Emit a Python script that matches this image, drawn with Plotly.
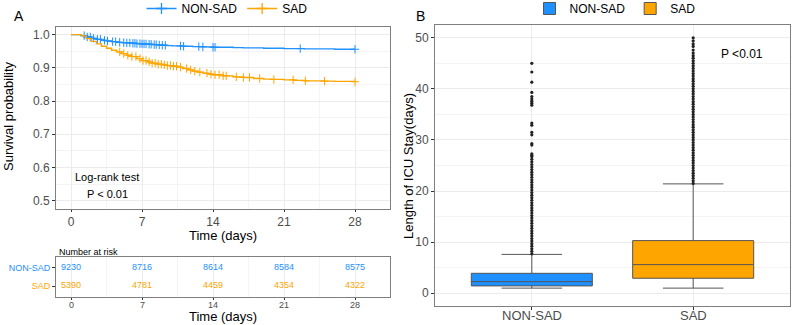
import numpy as np
import plotly.graph_objects as go

# ---------------- data ----------------
km_time = [0, 0.9, 1, 1.5, 2, 2.5, 3, 3.5, 4, 4.5, 5, 5.5, 6, 6.5, 7, 7.5, 8, 8.5, 9, 9.5,
           10, 10.5, 11, 11.5, 12, 12.5, 13, 13.5, 14, 15, 16, 17, 18, 19, 20, 21, 22, 23,
           24, 25, 26, 27, 28]
surv_nonsad = [1.0, 1.0, 0.997, 0.993, 0.989, 0.986, 0.983, 0.981, 0.979, 0.977, 0.976, 0.975,
               0.974, 0.973, 0.972, 0.971, 0.970, 0.969, 0.968, 0.967, 0.966, 0.966, 0.965,
               0.965, 0.964, 0.964, 0.963, 0.963, 0.962, 0.962, 0.961, 0.960, 0.960, 0.959,
               0.959, 0.958, 0.958, 0.957, 0.957, 0.957, 0.956, 0.956, 0.956]
surv_sad = [1.0, 1.0, 0.996, 0.988, 0.980, 0.972, 0.965, 0.959, 0.953, 0.948, 0.943, 0.938,
            0.934, 0.928, 0.922, 0.918, 0.914, 0.911, 0.909, 0.907, 0.905, 0.902, 0.898,
            0.894, 0.890, 0.887, 0.884, 0.881, 0.879, 0.876, 0.873, 0.871, 0.868, 0.866,
            0.865, 0.864, 0.862, 0.861, 0.861, 0.860, 0.859, 0.859, 0.858]
censor_nonsad = [1.3, 1.6, 1.9, 2.2, 2.6, 2.9, 3.3, 3.6, 4.1, 4.4, 4.8, 5.2, 5.5, 5.8, 6.1,
                 6.3, 6.5, 6.8, 7.0, 7.2, 7.4, 7.7, 7.9, 8.2, 8.4, 8.7, 9.0, 9.3, 10.8, 11.1,
                 12.6, 13.0, 14.0, 14.2, 22.6, 28.0]
censor_sad = [4.8, 5.2, 5.6, 6.0, 6.4, 6.8, 7.1, 7.4, 7.7, 8.0, 8.3, 8.6, 8.9, 9.2, 9.5, 9.8,
              10.1, 10.4, 10.8, 11.4, 11.8, 12.2, 12.7, 13.4, 13.8, 14.2, 14.6, 15.0, 15.3,
              16.3, 17.0, 17.6, 18.6, 20.0, 21.9, 23.1, 25.0, 28.0]

risk_times = [0, 7, 14, 21, 28]
risk_nonsad = [9230, 8716, 8614, 8584, 8575]
risk_sad = [5390, 4781, 4459, 4354, 4322]

groups = ["NON-SAD", "SAD"]
los_lower = [1.0, 1.0]
los_q1 = [1.43, 2.93]
los_median = [2.27, 5.6]
los_q3 = [3.9, 10.3]
los_upper = [7.6, 21.4]
outliers_nonsad = [7.7, 8.2, 8.7, 9.2, 9.7, 10.2, 10.7, 11.2, 11.7, 12.2, 12.7, 13.2, 13.7,
                   14.2, 14.7, 15.2, 15.7, 16.2, 16.7, 17.2, 17.7, 18.2, 18.7, 19.2, 19.7,
                   20.2, 20.7, 21.2, 21.7, 22.2, 22.7, 23.2, 23.7, 24.2, 24.7, 25.2, 25.7,
                   26.2, 26.7, 27.0, 27.3, 29.0, 29.3, 31.0, 31.5, 32.9, 33.3, 36.8, 37.2,
                   37.6, 38.0, 38.5, 39.3, 41.3, 43.3, 45.0]
outliers_sad = [21.5, 22.0, 22.5, 23.0, 23.5, 24.0, 24.5, 25.0, 25.5, 26.0, 26.5, 27.0, 27.5,
                28.0, 28.5, 29.0, 29.5, 30.0, 30.5, 31.0, 31.5, 32.0, 32.5, 33.0, 33.5, 34.0,
                34.5, 35.0, 35.5, 36.0, 36.5, 37.0, 37.5, 38.0, 38.5, 39.0, 39.5, 40.0, 40.5,
                41.0, 41.5, 42.0, 42.5, 43.0, 43.5, 44.0, 44.5, 45.0, 45.5, 46.0, 46.5, 47.0,
                47.6, 48.3, 48.8, 49.4, 50.0]

BLUE = "#1E90FF"
ORANGE = "#FFA500"
FONT = "Liberation Sans, Arial, sans-serif"
GRID = "#EBEBEB"
MINOR = "#F4F4F4"
BORDER = "#7F7F7F"
TICKC = "#4D4D4D"


def step_at(times, tgrid, surv):
    tg = np.asarray(tgrid)
    s = np.asarray(surv)
    idx = np.searchsorted(tg, np.asarray(times), side="right") - 1
    return s[idx]


fig = go.Figure()

# ---------------- Panel A: KM curves ----------------
for name, surv, cens, col in [("NON-SAD", surv_nonsad, censor_nonsad, BLUE),
                              ("SAD", surv_sad, censor_sad, ORANGE)]:
    fig.add_trace(go.Scatter(x=km_time, y=surv, mode="lines", line=dict(color=col, width=1.3, shape="hv"),
                             showlegend=False, xaxis="x", yaxis="y"))
    fig.add_trace(go.Scatter(x=cens, y=step_at(cens, km_time, surv), mode="markers",
                             marker=dict(symbol="cross-thin", size=6, line=dict(width=1, color=col), color=col),
                             showlegend=False, xaxis="x", yaxis="y"))
    fig.add_trace(go.Scatter(x=[None], y=[None], mode="lines+markers", name=name,
                             line=dict(color=col, width=1.3),
                             marker=dict(symbol="cross-thin", size=8, line=dict(width=1.3, color=col), color=col),
                             xaxis="x", yaxis="y", legend="legend"))

# ---------------- Risk table ----------------
fig.add_trace(go.Scatter(x=risk_times, y=[2] * len(risk_times), mode="text",
                         text=[str(v) for v in risk_nonsad], textfont=dict(color=BLUE, size=9, family=FONT),
                         showlegend=False, xaxis="x2", yaxis="y2"))
fig.add_trace(go.Scatter(x=risk_times, y=[1] * len(risk_times), mode="text",
                         text=[str(v) for v in risk_sad], textfont=dict(color=ORANGE, size=9, family=FONT),
                         showlegend=False, xaxis="x2", yaxis="y2"))

# ---------------- Panel B: boxplots ----------------
box_cols = [BLUE, ORANGE]
for i, g in enumerate(groups):
    fig.add_trace(go.Box(x=[g], q1=[los_q1[i]], median=[los_median[i]], q3=[los_q3[i]],
                         lowerfence=[los_lower[i]], upperfence=[los_upper[i]],
                         fillcolor=box_cols[i], line=dict(color="#555555", width=1),
                         width=0.75, boxpoints=False, name=g, xaxis="x3", yaxis="y3",
                         legend="legend2"))
for g, outs in [("NON-SAD", outliers_nonsad), ("SAD", outliers_sad)]:
    fig.add_trace(go.Scatter(x=[g] * len(outs), y=outs, mode="markers",
                             marker=dict(color="#222222", size=3.2), showlegend=False,
                             xaxis="x3", yaxis="y3"))

axis_common = dict(showline=True, linecolor=BORDER, linewidth=1, mirror=True, zeroline=False,
                   ticks="outside", tickcolor="#333333", gridcolor=GRID)

fig.update_layout(
    width=792, height=325, margin=dict(l=0, r=0, t=0, b=0, autoexpand=False),
    paper_bgcolor="white", plot_bgcolor="white",
    font=dict(family=FONT, color="black"),
    boxmode="overlay",
    xaxis=dict(domain=[56 / 792, 390 / 792], range=[-1.48, 31.45], tick0=0, dtick=7,
               tickfont=dict(size=12, color=TICKC), ticklen=2,
               minor=dict(dtick=3.5, tick0=0, showgrid=True, gridcolor=MINOR, ticks=""),
               anchor="y", **axis_common),
    yaxis=dict(domain=[1 - 209 / 325, 1 - 27 / 325], range=[0.475, 1.023], tick0=0.5, dtick=0.1,
               tickformat=".1f", tickfont=dict(size=12, color=TICKC), ticklen=3,
               minor=dict(dtick=0.05, tick0=0.5, showgrid=True, gridcolor=MINOR, ticks=""),
               anchor="x", **axis_common),
    xaxis2=dict(domain=[56 / 792, 390 / 792], range=[-1.48, 31.45], tick0=0, dtick=7,
                showticklabels=False, ticklen=2,
                minor=dict(dtick=3.5, tick0=0, showgrid=True, gridcolor=MINOR, ticks=""),
                anchor="y2", **axis_common),
    yaxis2=dict(domain=[1 - 297 / 325, 1 - 257 / 325], range=[0.4, 2.6],
                tickvals=[2, 1], ticklen=3,
                ticktext=['<span style="color:%s">NON-SAD</span>' % BLUE,
                          '<span style="color:%s">SAD</span>' % ORANGE],
                tickfont=dict(size=9), showgrid=False,
                anchor="x2", **axis_common),
    xaxis3=dict(domain=[435 / 792, 790 / 792], type="category", categoryorder="array",
                categoryarray=groups, range=[-0.6, 1.6], showticklabels=False,
                ticklen=3, anchor="y3", **axis_common),
    yaxis3=dict(domain=[1 - 306 / 325, 1 - 25 / 325], range=[-2.5, 52.5], tick0=0, dtick=10,
                tickfont=dict(size=12, color=TICKC), ticklen=3,
                minor=dict(dtick=5, tick0=0, showgrid=True, gridcolor=MINOR, ticks=""),
                anchor="x3", **axis_common),
    legend=dict(orientation="h", x=0.2866, xanchor="center", y=1.0185, yanchor="top",
                font=dict(size=12), bgcolor="rgba(0,0,0,0)", itemwidth=30, tracegroupgap=0),
    legend2=dict(orientation="h", x=615 / 792, xanchor="center", y=1.0185, yanchor="top",
                 font=dict(size=12), bgcolor="rgba(0,0,0,0)", itemwidth=30),
)

ann = [
    dict(text="A", x=19 / 792, y=1 - 16 / 325, font=dict(size=14)),
    dict(text="B", x=420 / 792, y=1 - 16 / 325, font=dict(size=14)),
    dict(text="Survival probability", x=9 / 792, y=1 - 116 / 325, textangle=-90, font=dict(size=13)),
    dict(text="Time (days)", x=223 / 792, y=1 - 235.5 / 325, font=dict(size=13)),
    dict(text="Log-rank test", x=107 / 792, y=1 - 177.5 / 325, font=dict(size=11)),
    dict(text="P < 0.01", x=107 / 792, y=1 - 193.5 / 325, font=dict(size=11)),
    dict(text="Number at risk", x=57 / 792, y=1 - 251.5 / 325, xanchor="left", font=dict(size=9)),
    dict(text="Time (days)", x=223 / 792, y=1 - 316.5 / 325, font=dict(size=13)),
    dict(text="Length of ICU Stay(days)", x=408 / 792, y=1 - 166 / 325, textangle=-90, font=dict(size=13)),
    dict(text="P <0.01", x=741.7 / 792, y=1 - 54 / 325, font=dict(size=12)),
]
for a in ann:
    a.setdefault("xanchor", "center")
    fig.add_annotation(xref="paper", yref="paper", yanchor="middle", showarrow=False, **a)

# tick labels of the risk table and of panel B, placed on their own axes
for t in risk_times:
    fig.add_annotation(xref="x2", yref="paper", x=t, y=1 - 304.5 / 325, text=str(t),
                       showarrow=False, xanchor="center", yanchor="middle",
                       font=dict(size=9, color=TICKC))
for g in groups:
    fig.add_annotation(xref="x3", yref="paper", x=g, y=1 - 315 / 325, text=g,
                       showarrow=False, xanchor="center", yanchor="middle",
                       font=dict(size=13, color=TICKC))

fig.write_html("out.html", config={"displayModeBar": False},
               post_script="document.body.style.margin='0px';document.body.style.overflow='hidden';")
